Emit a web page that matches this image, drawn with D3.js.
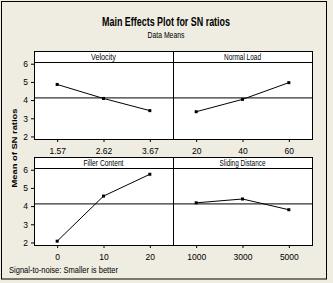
<!DOCTYPE html>
<html>
<head>
<meta charset="utf-8">
<script src="https://cdn.jsdelivr.net/npm/d3@7"></script>
<style>
  body { margin: 0; background: #efece2; }
  svg { display: block; }
  text { font-family: "Liberation Sans", Arial, sans-serif; fill: #000; }
  .tick line { stroke: #000; }
</style>
</head>
<body>
<script>
// factors and their levels
var factors = ["Velocity", "Normal Load", "Filler Content", "Sliding Distance"];
var levels = [
  ["1.57", "2.62", "3.67"],
  ["20", "40", "60"],
  ["0", "10", "20"],
  ["1000", "3000", "5000"]
];
// mean SN ratio per level
var velocity = [4.86, 4.09, 3.42];
var normalLoad = [3.36, 4.04, 4.96];
var fillerContent = [2.07, 4.55, 5.75];
var slidingDistance = [4.18, 4.39, 3.80];
var grandMean = 4.12;
var yTicks = [2, 3, 4, 5, 6];

var series = [velocity, normalLoad, fillerContent, slidingDistance];

var W = 333, H = 283;
var svg = d3.select("body").append("svg")
  .attr("width", W).attr("height", H);

svg.append("rect").attr("width", W).attr("height", H).attr("fill", "#efece2");
svg.append("rect")
  .attr("x", 1.5).attr("y", 1.5).attr("width", 325).attr("height", 277.5)
  .attr("fill", "none").attr("stroke", "#000");

svg.append("text").attr("x", 166).attr("y", 26)
  .attr("text-anchor", "middle").style("font-size", "12px").style("font-weight", "bold")
  .attr("textLength", 128).attr("lengthAdjust", "spacingAndGlyphs")
  .text("Main Effects Plot for SN ratios");
svg.append("text").attr("x", 166).attr("y", 38)
  .attr("text-anchor", "middle").style("font-size", "9px")
  .attr("textLength", 37).attr("lengthAdjust", "spacingAndGlyphs")
  .text("Data Means");

svg.append("text")
  .attr("transform", "translate(17,148) rotate(-90)")
  .attr("text-anchor", "middle").style("font-size", "8px").style("font-weight", "bold")
  .attr("textLength", 79).attr("lengthAdjust", "spacingAndGlyphs")
  .text("Mean of SN ratios");

svg.append("text").attr("x", 9).attr("y", 273)
  .style("font-size", "9.5px")
  .attr("textLength", 109).attr("lengthAdjust", "spacingAndGlyphs")
  .text("Signal-to-noise: Smaller is better");

var colX = [34, 173], rowY = [51, 157];
var pw = 139, ph = 88, strip = 11;
var stripWidths = [25, 37, 40, 46];

factors.forEach(function(name, i) {
  var col = i % 2, row = Math.floor(i / 2);
  var g = svg.append("g")
    .attr("transform", "translate(" + colX[col] + "," + rowY[row] + ")");

  var x = d3.scalePoint().domain(levels[i]).range([0, pw]).padding(0.5);
  var y = d3.scaleLinear().domain([1.86, 6.7]).range([ph, 0]);

  g.append("rect").attr("width", pw).attr("height", ph)
    .attr("fill", "#fff");

  // grand mean reference line
  g.append("line")
    .attr("x1", 0).attr("x2", pw)
    .attr("y1", y(grandMean)).attr("y2", y(grandMean))
    .attr("stroke", "#000");

  var line = d3.line()
    .x(function(d, j) { return x(levels[i][j]); })
    .y(function(d) { return y(d); });

  g.append("path").datum(series[i])
    .attr("d", line).attr("fill", "none")
    .attr("stroke", "#000").attr("stroke-width", 1);

  g.selectAll("rect.pt").data(series[i]).enter().append("rect")
    .attr("class", "pt")
    .attr("x", function(d, j) { return x(levels[i][j]) - 1.5; })
    .attr("y", function(d) { return y(d) - 1.5; })
    .attr("width", 3).attr("height", 3).attr("fill", "#000");

  // strip header
  g.append("rect").attr("width", pw).attr("height", strip)
    .attr("fill", "#fff");
  g.append("line").attr("x1", 0).attr("x2", pw)
    .attr("y1", strip + 0.5).attr("y2", strip + 0.5).attr("stroke", "#000");
  g.append("text").attr("x", pw / 2).attr("y", 9)
    .attr("text-anchor", "middle").style("font-size", "9px")
    .attr("textLength", stripWidths[i]).attr("lengthAdjust", "spacingAndGlyphs")
    .text(name);

  g.append("rect").attr("x", 0.5).attr("y", 0.5)
    .attr("width", pw).attr("height", ph)
    .attr("fill", "none").attr("stroke", "#000");

  var xAxis = g.append("g").attr("transform", "translate(0," + ph + ")")
    .call(d3.axisBottom(x).tickSize(3).tickSizeOuter(0));
  xAxis.select(".domain").remove();
  xAxis.selectAll("text").style("font-size", "8.5px").attr("dy", "1em");

  if (col === 0) {
    var yAxis = g.append("g")
      .call(d3.axisLeft(y).tickValues(yTicks).tickFormat(d3.format("d"))
        .tickSize(3).tickSizeOuter(0));
    yAxis.select(".domain").remove();
    yAxis.selectAll("text").style("font-size", "8.5px");
  }
});
</script>
</body>
</html>
